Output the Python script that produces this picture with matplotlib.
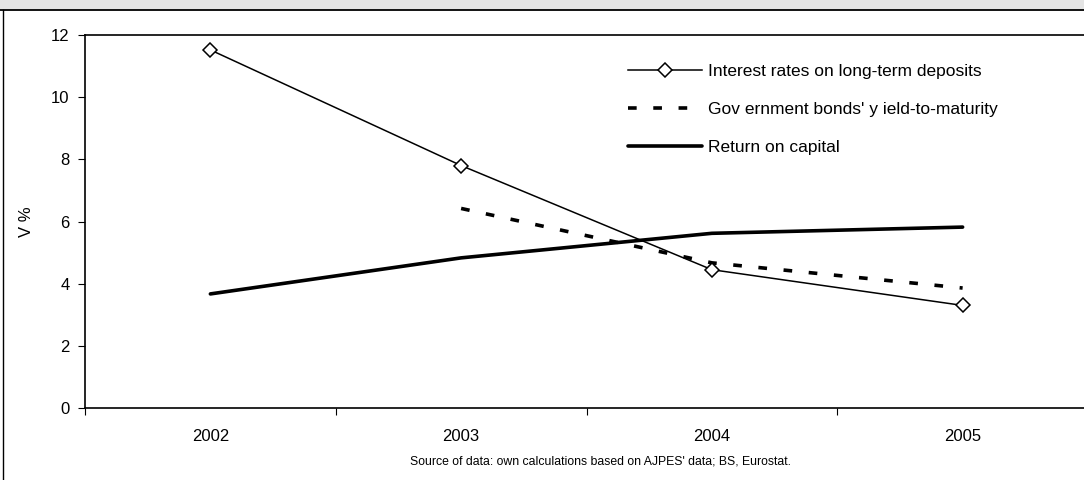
import numpy as np
import matplotlib.pyplot as plt
from matplotlib.lines import Line2D
from matplotlib.patches import Rectangle

plt.rcParams['font.family'] = ['Liberation Sans', 'DejaVu Sans']

# Podatki
years = ['2002', '2003', '2004', '2005']
deposit_rates = [11.52, 7.80, 4.45, 3.30]
bond_yields = [np.nan, 6.42, 4.67, 3.86]
return_on_capital = [3.67, 4.83, 5.62, 5.82]

labels = ["Interest rates on long-term deposits",
          "Gov ernment bonds' y ield-to-maturity",
          "Return on capital"]

W, H = 1084, 480
fig = plt.figure(figsize=(W / 100, H / 100), dpi=100)

# siv pas z naslovom in okvir
fig.patches.append(Rectangle((0, 1 - 9.5 / H), 1, 9.5 / H, transform=fig.transFigure,
                             facecolor='#e4e4e4', edgecolor='none', zorder=0))
fig.add_artist(Line2D([0, 1], [1 - 9.5 / H] * 2, transform=fig.transFigure,
                      color='black', lw=1.3))
fig.add_artist(Line2D([2.5 / W] * 2, [0, 1 - 9.5 / H], transform=fig.transFigure,
                      color='black', lw=1.0))

left, right, bottom, top = 85 / W, 1088 / W, 1 - 408 / H, 1 - 35 / H
ax = fig.add_axes([left, bottom, right - left, top - bottom])
ax.set_facecolor('none')

x = np.arange(len(years))
ax.plot(x, deposit_rates, color='black', lw=1.1, marker='D', markersize=7,
        markerfacecolor='white', markeredgecolor='black', markeredgewidth=1.1,
        label=labels[0], zorder=3)
ax.plot(x, bond_yields, color='black', lw=2.6, linestyle=(0, (2.4, 4.6)),
        dash_capstyle='butt', label=labels[1], zorder=2)
ax.plot(x, return_on_capital, color='black', lw=2.6, solid_capstyle='round',
        label=labels[2], zorder=2)

ax.set_xlim(-0.5, len(years) - 0.5)
ax.set_ylim(0, 12)
ax.set_yticks(np.arange(0, 13, 2))
ax.set_xticks(np.arange(len(years) + 1) - 0.5)
ax.set_xticklabels([])
ax.set_xticks(x, minor=True)
ax.set_xticklabels(years, minor=True)
ax.tick_params(axis='x', which='major', direction='out', length=5, width=0.8)
ax.tick_params(axis='x', which='minor', length=0, pad=15, labelsize=12)
ax.tick_params(axis='y', direction='out', length=5, width=0.8, pad=6, labelsize=12)

for side in ['left', 'bottom', 'top']:
    ax.spines[side].set_linewidth(1.2)
ax.spines['right'].set_visible(False)

ax.set_ylabel('V %', fontsize=12, labelpad=12)

ax.legend(loc='upper left', bbox_to_anchor=(619 / W, 1 - 55 / H),
          bbox_transform=fig.transFigure, frameon=False, fontsize=12.5,
          handlelength=4.3, handletextpad=0.35, labelspacing=1.32, borderpad=0)

fig.text(600 / W, 1 - 461 / H,
         "Source of data: own calculations based on AJPES' data; BS, Eurostat.",
         ha='center', va='center', fontsize=8.8)

fig.savefig('out.png', dpi=100)
